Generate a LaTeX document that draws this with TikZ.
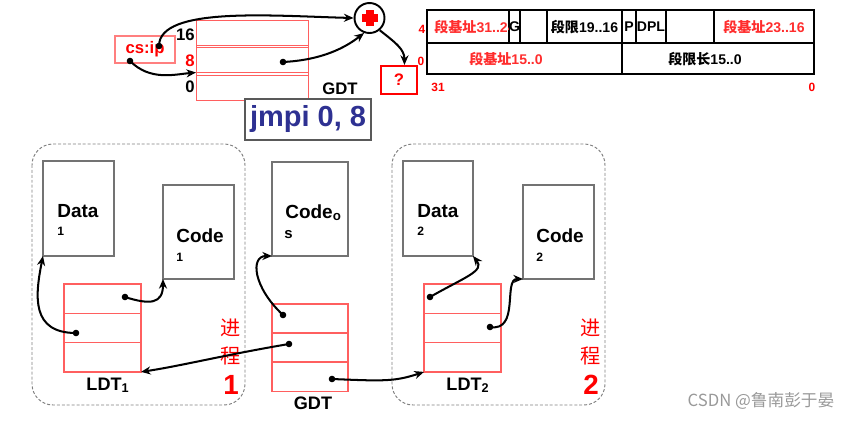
\documentclass[tikz,border=0pt]{standalone}
\usepackage{fontspec}
\setmainfont{Liberation Sans}
\newfontfamily\cjk{Noto Sans CJK SC}
\usetikzlibrary{arrows.meta}
\definecolor{lred}{RGB}{255,95,95}
\definecolor{tred}{RGB}{255,45,45}
\definecolor{navy}{RGB}{46,49,146}
\definecolor{boxgray}{RGB}{115,115,115}
\tikzset{
  seg/.style={draw=boxgray, line width=0.8pt, inner sep=0, outer sep=0, anchor=north west},
  row/.style={draw=lred, line width=0.7pt, minimum width=1.54cm, minimum height=0.586cm, inner sep=0, outer sep=0, anchor=north west},
  toprow/.style={draw=lred, line width=0.5pt, minimum width=2.24cm, minimum height=0.5cm, inner sep=0, outer sep=0, anchor=north west},
  proc/.style={draw=gray, dash pattern=on 1.7pt off 1.1pt, rounded corners=0.42cm, line width=0.55pt},
  link/.style={line width=1.15pt, -{Stealth[length=5.5pt,width=4.6pt]}},
  big/.style={font=\fontsize{10.8}{12}\selectfont\bfseries, inner sep=0, anchor=base west},
  small/.style={font=\fontsize{6.9}{8}\selectfont\bfseries, inner sep=0, anchor=base west},
  mid/.style={font=\fontsize{9.5}{11}\selectfont\bfseries, inner sep=0},
  cell/.style={font=\fontsize{8}{9}\selectfont\bfseries, inner sep=0},
  tick/.style={font=\fontsize{6.8}{8}\selectfont\bfseries, text=red, inner sep=0},
  proctext/.style={font=\fontsize{11.5}{16.4}\selectfont\cjk, text=red, align=center, inner sep=0},
  procnum/.style={font=\fontsize{15.8}{17}\selectfont\bfseries, text=red, inner sep=0},
}
\begin{document}
\begin{tikzpicture}[x=0.02cm, y=-0.02cm]
    \useasboundingbox (0,0) rectangle (862,420);

    % top: GDT, cs:ip and the adder
    \node[toprow] (gdt16) at (196,20) {};
    \node[toprow] (gdt8) at (196,47.5) {};
    \node[toprow] (gdt0) at (196,75) {};
    \node[draw=lred, line width=0.5pt, minimum width=2.24cm, minimum height=1.6cm, inner sep=0, outer sep=0, anchor=north west] (gdttop) at (196,20) {};
    \node[mid, anchor=east] (n16) at (195,35) {16};
    \node[mid, anchor=east, text=red] (n8) at (195,61) {8};
    \node[mid, anchor=east] (n0) at (195,87) {0};
    \node[mid] (gdtlbl) at (340,89) {GDT};
    \node[draw=lred!80, line width=0.9pt, minimum width=1.2cm, minimum height=0.54cm, inner sep=0, font=\fontsize{9.5}{11}\selectfont\bfseries, text=red] (csip) at (145,49.5) {cs:ip};
    \node[draw=black!65, line width=0.9pt, fill=white, minimum width=2.52cm, minimum height=0.82cm, inner sep=0, font=\fontsize{16.5}{18}\selectfont\bfseries, text=navy] (jmpi) at (308,119.5) {jmpi 0, 8};
    \node[draw, circle, line width=1.1pt, minimum size=0.6cm, inner sep=0] (plus) at (369.5,18) {};
    \fill[red] (365.5,10) rectangle (373.5,26);
    \fill[red] (361.5,14) rectangle (377.5,22);
    \node[draw=red, line width=1.2pt, minimum width=0.72cm, minimum height=0.56cm, inner sep=0, font=\fontsize{9.5}{11}\selectfont\bfseries, text=red] (q) at (399,80) {?};

    \coordinate (dcs1) at (159,46);
    \coordinate (dcs2) at (130,61);
    \coordinate (d8) at (283,62);
    \fill (dcs1) circle (3.3);
    \fill (dcs2) circle (3.3);
    \fill (d8) circle (3.3);
    \draw[link] (dcs1) .. controls +(0,-40) and +(-80,-2) .. (plus.west);
    \draw[link] (dcs2) .. controls +(20,20) and +(-22,2) .. (gdt8.south west);
    \draw[link] (d8) .. controls +(40,-2) and +(-18,14) .. (plus.250);
    \draw[link] (plus.-50) .. controls +(15,12) and +(0,-16) .. (q.70);

    % descriptor layout
    \draw[line width=0.8pt] (427,10) rectangle (814,74);
    \draw[line width=0.8pt] (427,43) -- (814,43);
    \foreach \xx in {509,520,547,622,636,666,714}
        \draw[line width=0.8pt] (\xx,10) -- (\xx,43);
    \draw[line width=0.8pt] (622,43) -- (622,74);
    \begin{scope}
        \clip (427,10) rectangle (508,43);
        \node[cell, text=tred, anchor=west] (base3124) at (434,27) {{\cjk 段基址}31..24};
    \end{scope}
    \node[cell] (gbit) at (514.5,27) {G};
    \node[cell] (lim1916) at (584.5,27) {{\cjk 段限}19..16};
    \node[cell] (pbit) at (629,27) {P};
    \node[cell] (dpl) at (651,27) {DPL};
    \node[cell, text=tred] (base2316) at (764,27) {{\cjk 段基址}23..16};
    \node[cell, text=tred] (base150) at (506,59) {{\cjk 段基址}15..0};
    \node[cell] (lim150) at (705,59) {{\cjk 段限长}15..0};
    \node[tick] (t4) at (422,29) {4};
    \node[tick] (t0) at (421,61) {0};
    \node[tick] (t31) at (438,87) {31};
    \node[tick] (tz) at (812,87) {0};

    % process 1
    \draw[proc] (32,144) rectangle (245,405);
    \node[seg, minimum width=1.42cm, minimum height=1.9cm] (data1) at (43,161) {};
    \node[big] (data1a) at (57,217) {Data};
    \node[small] (data1b) at (57,235) {1};
    \node[seg, minimum width=1.42cm, minimum height=1.88cm] (code1) at (163,185) {};
    \node[big] (code1a) at (176,242) {Code};
    \node[small] (code1b) at (176,261) {1};
    \node[row] (ldta) at (64,284) {};
    \node[row] (ldtb) at (64,313.3) {};
    \node[row] (ldtc) at (64,342.6) {};
    \node[font=\fontsize{10.3}{12}\selectfont\bfseries, inner sep=0, anchor=base] (ldt1lbl) at (108,390) {LDT\textsubscript{1}};
    \node[proctext] (proc1a) at (231,342) {进\\程};
    \node[procnum] (proc1b) at (231,385) {1};

    % GDT and the kernel code
    \node[seg, minimum width=1.52cm, minimum height=1.88cm] (codeos) at (272,162) {};
    \node[big] (codeosa) at (285,218) {Code\textsubscript{o}};
    \node[font=\fontsize{8.5}{9}\selectfont\bfseries, inner sep=0, anchor=base west] (codeosb) at (284,238) {s};
    \node[row, minimum width=1.52cm] (gdta) at (272,304) {};
    \node[row, minimum width=1.52cm] (gdtb) at (272,333) {};
    \node[row, minimum width=1.52cm] (gdtc) at (272,362) {};
    \node[font=\fontsize{10.3}{12}\selectfont\bfseries, inner sep=0, anchor=base] (gdtlbl2) at (313,409) {GDT};

    % process 2
    \draw[proc] (392,144) rectangle (605,405);
    \node[seg, minimum width=1.4cm, minimum height=1.9cm] (data2) at (403,161) {};
    \node[big] (data2a) at (417,217) {Data};
    \node[small] (data2b) at (417,235) {2};
    \node[seg, minimum width=1.42cm, minimum height=1.88cm] (code2) at (523,185) {};
    \node[big] (code2a) at (536,242) {Code};
    \node[small] (code2b) at (536,261) {2};
    \node[row] (ldt2a) at (424,284) {};
    \node[row] (ldt2b) at (424,313.3) {};
    \node[row] (ldt2c) at (424,342.6) {};
    \node[font=\fontsize{10.3}{12}\selectfont\bfseries, inner sep=0, anchor=base] (ldt2lbl) at (468,390) {LDT\textsubscript{2}};
    \node[proctext] (proc2a) at (591,342) {进\\程};
    \node[procnum] (proc2b) at (591,385) {2};

    % pointers
    \coordinate (p1a) at (125,297);
    \coordinate (p1b) at (76,333);
    \coordinate (g1) at (283,315);
    \coordinate (g2) at (289,344);
    \coordinate (g3) at (332,379);
    \coordinate (p2a) at (430,297);
    \coordinate (p2b) at (490,327);
    \foreach \pp in {p1a,p1b,g1,g2,g3,p2a,p2b}
        \fill (\pp) circle (3.3);
    \draw[link] (p1a) .. controls +(25,8) and +(0,25) .. (code1.south west);
    \draw[link] (p1b) .. controls +(-45,0) and +(-8,40) .. (data1.south west);
    \draw[link] (g1) .. controls +(-30,-28) and +(-22,0) .. (codeos.south west);
    \draw[link] (g2) .. controls +(-60,10) and +(40,-6) .. (ldta.south east |- ldtc.south east);
    \draw[link] (g3) .. controls +(50,2) and +(-30,10) .. (ldt2c.south west);
    \draw[link] (p2a) .. controls +(35,-20) and +(12,15) .. (data2.south east);
    \draw[link] (p2b) .. controls +(30,5) and +(-20,0) .. (code2.south west);

    \node[font=\fontsize{9.5}{11}\selectfont\cjk, text=black!40, inner sep=0] (mark) at (761,401) {CSDN @鲁南彭于晏};
\end{tikzpicture}
\end{document}
